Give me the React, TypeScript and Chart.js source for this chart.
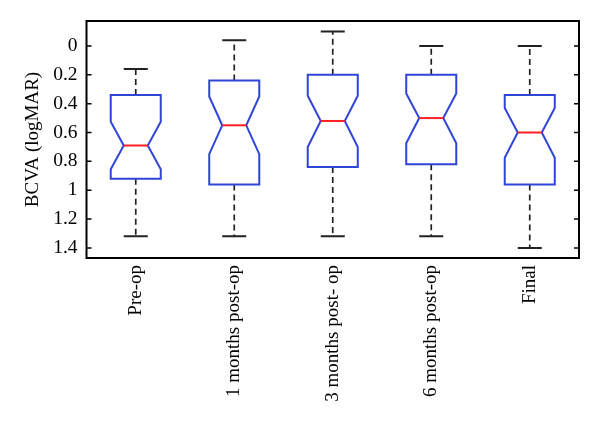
import React, { useEffect, useRef } from "react";
import { Chart, registerables } from "chart.js";

Chart.register(...registerables);

const categories = ["Pre-op", "1 months post-op", "3 months post- op", "6 months post-op", "Final"];
const whiskerLow = [0.16, -0.04, -0.1, 0.0, 0.0];
const q1 = [0.34, 0.24, 0.2, 0.2, 0.34];
const notchLow = [0.525, 0.35, 0.345, 0.33, 0.43];
const median = [0.69, 0.55, 0.52, 0.5, 0.6];
const notchHigh = [0.855, 0.75, 0.7, 0.675, 0.775];
const q3 = [0.92, 0.96, 0.84, 0.82, 0.96];
const whiskerHigh = [1.32, 1.32, 1.32, 1.32, 1.4];
const yTicks = [0, 0.2, 0.4, 0.6, 0.8, 1, 1.2, 1.4];

const BOX_BLUE = "#2f45d8";
const MEDIAN_RED = "#ff2020";
const FONT = "'Liberation Serif', 'DejaVu Serif', serif";
const FONT_SIZE = 19.5;

const boxPlugin = {
  id: "notchedBox",
  afterDatasetsDraw(chart: any) {
    const { ctx, chartArea } = chart;
    const xs = chart.scales.x;
    const ys = chart.scales.y;
    const step = xs.getPixelForValue(1) - xs.getPixelForValue(0);
    const bw = step * 0.254;
    const nw = step * 0.122;
    const cw = step * 0.122;
    ctx.save();
    categories.forEach((_, i) => {
      const x = xs.getPixelForValue(i);
      const py = (v: number) => ys.getPixelForValue(v);
      // whiskers
      ctx.strokeStyle = "#222";
      ctx.lineWidth = 1.7;
      ctx.setLineDash([6, 4]);
      ctx.beginPath();
      ctx.moveTo(x, py(q1[i]));
      ctx.lineTo(x, py(whiskerLow[i]));
      ctx.moveTo(x, py(q3[i]));
      ctx.lineTo(x, py(whiskerHigh[i]));
      ctx.stroke();
      ctx.setLineDash([]);
      ctx.lineWidth = 2;
      ctx.beginPath();
      ctx.moveTo(x - cw, py(whiskerLow[i]));
      ctx.lineTo(x + cw, py(whiskerLow[i]));
      ctx.moveTo(x - cw, py(whiskerHigh[i]));
      ctx.lineTo(x + cw, py(whiskerHigh[i]));
      ctx.stroke();
      // box
      ctx.fillStyle = "#fff";
      ctx.strokeStyle = BOX_BLUE;
      ctx.lineWidth = 2;
      ctx.beginPath();
      ctx.moveTo(x - bw, py(q1[i]));
      ctx.lineTo(x + bw, py(q1[i]));
      ctx.lineTo(x + bw, py(notchLow[i]));
      ctx.lineTo(x + nw, py(median[i]));
      ctx.lineTo(x + bw, py(notchHigh[i]));
      ctx.lineTo(x + bw, py(q3[i]));
      ctx.lineTo(x - bw, py(q3[i]));
      ctx.lineTo(x - bw, py(notchHigh[i]));
      ctx.lineTo(x - nw, py(median[i]));
      ctx.lineTo(x - bw, py(notchLow[i]));
      ctx.closePath();
      ctx.fill();
      ctx.stroke();
      // median
      ctx.strokeStyle = MEDIAN_RED;
      ctx.beginPath();
      ctx.moveTo(x - nw, py(median[i]));
      ctx.lineTo(x + nw, py(median[i]));
      ctx.stroke();
    });
    // frame
    ctx.strokeStyle = "#000";
    ctx.lineWidth = 2;
    ctx.strokeRect(chartArea.left, chartArea.top, chartArea.right - chartArea.left, chartArea.bottom - chartArea.top);
    // inward y ticks on both sides
    ctx.lineWidth = 1.5;
    ctx.beginPath();
    yTicks.forEach((t) => {
      const y = ys.getPixelForValue(t);
      ctx.moveTo(chartArea.left, y);
      ctx.lineTo(chartArea.left + 5, y);
      ctx.moveTo(chartArea.right, y);
      ctx.lineTo(chartArea.right - 5, y);
    });
    ctx.stroke();
    ctx.restore();
  },
};

export default function App() {
  const ref = useRef<HTMLCanvasElement | null>(null);
  useEffect(() => {
    document.body.style.margin = "0";
    if (!ref.current) return;
    const chart = new Chart(ref.current, {
      type: "bar",
      data: {
        labels: categories,
        datasets: [
          {
            data: categories.map((_, i) => [q1[i], q3[i]]) as any,
            backgroundColor: "rgba(0,0,0,0)",
            borderWidth: 0,
          },
        ],
      },
      options: {
        responsive: false,
        animation: false,
        events: [],
        layout: { padding: { top: 21, right: 21, left: 0, bottom: 0 } },
        plugins: { legend: { display: false }, tooltip: { enabled: false } },
        scales: {
          x: {
            offset: true,
            grid: { display: false, drawTicks: false },
            border: { display: false },
            ticks: {
              minRotation: 90,
              maxRotation: 90,
              padding: 7,
              color: "#000",
              font: { family: FONT, size: 19 },
            },
            afterFit: (axis: any) => {
              axis.height = 173;
            },
          },
          y: {
            reverse: true,
            min: -0.173,
            max: 1.47,
            grid: { display: false, drawTicks: false },
            border: { display: false },
            afterBuildTicks: (axis: any) => {
              axis.ticks = yTicks.map((v) => ({ value: v }));
            },
            ticks: {
              padding: 9,
              color: "#000",
              font: { family: FONT, size: FONT_SIZE },
              callback: (v: any) => String(parseFloat(Number(v).toFixed(1))),
            },
            title: {
              display: true,
              text: "BCVA (logMAR)",
              color: "#000",
              font: { family: FONT, size: 19 },
              padding: { top: 22, bottom: 0 },
            },
            afterFit: (axis: any) => {
              axis.width = 86.5;
            },
          },
        },
      },
      plugins: [boxPlugin],
    });
    return () => chart.destroy();
  }, []);
  return (
    <div style={{ width: 600, height: 431, background: "#fff" }}>
      <canvas ref={ref} width={600} height={431} />
    </div>
  );
}
